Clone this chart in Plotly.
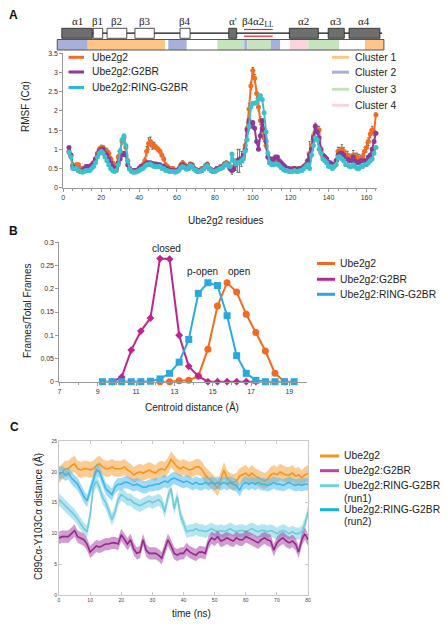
import plotly.graph_objects as go

# ---------------- DATA ----------------
# Panel A: RMSF per residue (residues 3..165)
residues = list(range(3, 166))
rmsf_ube2g2 = [
    0.95, 0.85, 0.6, 0.55, 0.6, 0.6, 0.5, 0.45, 0.5, 0.5, 0.55, 0.55, 0.55, 0.65, 0.75, 0.9, 1.0, 1.05,
    1.05, 0.95, 0.95, 0.9, 0.75, 0.65, 0.6, 0.55, 0.8, 0.95, 1.2, 1.3, 1.05, 0.7, 0.5, 0.45, 0.45, 0.45,
    0.45, 0.5, 0.55, 0.6, 0.7, 0.95, 1.15, 1.2, 1.1, 1.1, 1.05, 1.0, 0.95, 0.85, 0.75, 0.6, 0.55, 0.5,
    0.5, 0.5, 0.45, 0.45, 0.5, 0.6, 0.65, 0.6, 0.5, 0.55, 0.62, 0.6, 0.5, 0.48, 0.45, 0.45, 0.5, 0.5,
    0.58, 0.62, 0.5, 0.48, 0.45, 0.45, 0.5, 0.5, 0.55, 0.55, 0.62, 0.65, 0.62, 0.5, 0.45, 0.55, 0.6, 0.7,
    0.7, 0.75, 0.8, 1.1, 1.55, 2.05, 2.65, 3.05, 2.85, 2.45, 2.1, 1.75, 1.55, 1.3, 1.1, 0.8, 0.7, 0.65,
    0.65, 0.7, 0.7, 0.65, 0.6, 0.55, 0.5, 0.5, 0.48, 0.48, 0.5, 0.5, 0.48, 0.5, 0.5, 0.52, 0.55, 0.6,
    0.7, 0.9, 1.1, 1.35, 1.6, 1.5, 1.5, 0.95, 0.8, 0.8, 0.75, 0.65, 0.6, 0.6, 0.6, 0.7, 0.95, 0.95,
    1.0, 0.95, 0.85, 0.85, 0.8, 0.75, 0.85, 0.8, 0.8, 0.75, 0.75, 0.8, 0.95, 1.05, 1.2, 1.4, 1.5, 1.45,
    1.9]
rmsf_g2br = [
    1.05, 0.85, 0.55, 0.5, 0.5, 0.45, 0.42, 0.45, 0.5, 0.55, 0.55, 0.55, 0.6, 0.65, 0.75, 0.85, 0.95, 1.0,
    1.0, 0.9, 0.85, 0.75, 0.65, 0.55, 0.5, 0.5, 0.65, 0.75, 0.85, 0.9, 0.85, 0.6, 0.5, 0.45, 0.42, 0.45,
    0.45, 0.5, 0.55, 0.55, 0.6, 0.65, 0.65, 0.65, 0.63, 0.62, 0.62, 0.6, 0.6, 0.55, 0.55, 0.5, 0.5, 0.45,
    0.45, 0.45, 0.42, 0.45, 0.48, 0.55, 0.6, 0.55, 0.5, 0.5, 0.6, 0.58, 0.5, 0.45, 0.42, 0.45, 0.45, 0.5,
    0.55, 0.6, 0.5, 0.45, 0.42, 0.45, 0.5, 0.5, 0.52, 0.55, 0.6, 0.62, 0.6, 0.5, 0.45, 0.5, 0.6, 0.7,
    0.75, 0.75, 0.85, 1.0, 1.5, 1.75, 1.6, 1.7, 1.55, 1.2, 1.0, 1.35, 1.75, 1.5, 1.2, 0.8, 0.65, 0.75,
    0.75, 0.8, 0.8, 0.7, 0.65, 0.6, 0.55, 0.5, 0.5, 0.48, 0.48, 0.5, 0.48, 0.48, 0.5, 0.5, 0.55, 0.6,
    0.7, 0.85, 1.0, 1.3, 1.6, 1.45, 1.3, 1.0, 0.85, 0.8, 0.75, 0.65, 0.65, 0.6, 0.6, 0.7, 0.85, 0.9,
    0.9, 0.85, 0.75, 0.75, 0.7, 0.7, 0.8, 0.7, 0.65, 0.65, 0.7, 0.7, 0.7, 0.7, 0.8, 0.85, 1.0, 1.2,
    1.42]
rmsf_ring_g2br = [
    0.92, 0.8, 0.5, 0.5, 0.5, 0.45, 0.42, 0.4, 0.42, 0.45, 0.45, 0.45, 0.5, 0.55, 0.65, 0.8, 0.9, 0.95,
    0.9, 0.8, 0.7, 0.6, 0.5, 0.45, 0.42, 0.45, 0.6, 0.95, 1.25, 1.35, 1.1, 0.7, 0.48, 0.42, 0.4, 0.4,
    0.42, 0.45, 0.48, 0.5, 0.55, 0.6, 0.6, 0.62, 0.58, 0.55, 0.55, 0.55, 0.55, 0.5, 0.5, 0.45, 0.45, 0.42,
    0.42, 0.42, 0.4, 0.42, 0.45, 0.52, 0.55, 0.52, 0.48, 0.5, 0.58, 0.55, 0.48, 0.45, 0.42, 0.42, 0.45, 0.48,
    0.55, 0.58, 0.5, 0.45, 0.42, 0.42, 0.45, 0.48, 0.5, 0.52, 0.58, 0.62, 0.58, 0.55, 0.88, 0.7, 0.62, 0.65,
    0.65, 0.7, 0.75, 0.95, 1.25, 1.6, 2.1, 2.2, 2.2, 2.22, 2.3, 2.4, 2.3, 1.95, 1.45, 0.9, 0.65, 0.6,
    0.6, 0.62, 0.62, 0.58, 0.52, 0.48, 0.45, 0.45, 0.42, 0.42, 0.42, 0.45, 0.42, 0.42, 0.45, 0.45, 0.5, 0.55,
    0.6, 0.5, 0.85, 1.1, 1.3, 1.25, 1.0, 0.9, 0.75, 0.7, 0.65, 0.55, 0.55, 0.5, 0.55, 0.6, 0.8, 0.8,
    0.75, 0.7, 0.6, 0.6, 0.55, 0.55, 0.6, 0.55, 0.5, 0.5, 0.55, 0.55, 0.6, 0.6, 0.65, 0.7, 0.75, 0.9,
    1.05]
rmsf_err_ube2g2 = [
    0.04, 0.04, 0.04, 0.04, 0.04, 0.04, 0.04, 0.04, 0.04, 0.04, 0.04, 0.04, 0.04, 0.04, 0.05, 0.05, 0.06, 0.06,
    0.05, 0.08, 0.08, 0.06, 0.06, 0.1, 0.06, 0.05, 0.06, 0.06, 0.06, 0.06, 0.05, 0.05, 0.04, 0.04, 0.04, 0.04,
    0.04, 0.04, 0.05, 0.05, 0.08, 0.12, 0.15, 0.12, 0.1, 0.08, 0.06, 0.06, 0.05, 0.05, 0.05, 0.04, 0.04, 0.04,
    0.04, 0.04, 0.04, 0.04, 0.04, 0.05, 0.05, 0.04, 0.04, 0.04, 0.04, 0.04, 0.04, 0.04, 0.04, 0.04, 0.04, 0.04,
    0.04, 0.04, 0.04, 0.04, 0.04, 0.04, 0.04, 0.04, 0.04, 0.04, 0.05, 0.05, 0.05, 0.06, 0.1, 0.12, 0.15, 0.3,
    0.3, 0.2, 0.15, 0.15, 0.15, 0.15, 0.1, 0.08, 0.1, 0.12, 0.1, 0.1, 0.1, 0.1, 0.08, 0.06, 0.05, 0.05,
    0.05, 0.05, 0.05, 0.05, 0.04, 0.04, 0.04, 0.04, 0.04, 0.04, 0.04, 0.04, 0.04, 0.04, 0.04, 0.04, 0.05, 0.1,
    0.2, 0.3, 0.15, 0.1, 0.08, 0.1, 0.1, 0.08, 0.06, 0.06, 0.05, 0.05, 0.05, 0.05, 0.06, 0.06, 0.1, 0.1,
    0.12, 0.1, 0.1, 0.1, 0.08, 0.1, 0.12, 0.1, 0.1, 0.12, 0.1, 0.1, 0.1, 0.12, 0.1, 0.1, 0.1, 0.1,
    0.05]

# Secondary structure elements (residue ranges)
helix_labels = ["α1", "α'", "α2", "α3", "α4"]
helix_start = [-0.8, 87.3, 119.3, 139.8, 150.8]
helix_end = [15.3, 91.5, 134.6, 148.3, 167.1]
strand_labels = ["β1", "β2", "β3", "β4"]
strand_start = [15.8, 23.1, 37.8, 61.6]
strand_end = [20.8, 33.5, 48.0, 66.9]
loop_label = "β4α2<sub>LL</sub>"
loop_start, loop_end = 95.4, 110.5

# Cluster assignment bar (residue ranges)
cluster_names = ["Cluster 1", "Cluster 2", "Cluster 3", "Cluster 4"]
cluster_seg_id = [2, 1, 2, 3, 2, 3, 2, 4, 3, 1]
cluster_seg_start = [-3.2, 12.9, 55.4, 81.3, 95.5, 97.1, 109.4, 119.6, 129.3, 159.2]
cluster_seg_end = [12.9, 53.7, 65.1, 95.5, 97.1, 109.4, 114.4, 129.3, 145.5, 169.2]

# Panel B: centroid distance histograms
centroid_bins = [9.25 + 0.5 * i for i in range(21)]
frac_ube2g2 = [None] * 6 + [0, 0, 0.002, 0.003, 0.012, 0.07, 0.163, 0.213, 0.193, 0.145, 0.106, 0.066, 0.018, 0.0, None]
frac_g2br = [None, 0, 0.01, 0.068, 0.109, 0.137, 0.265, 0.264, 0.1, 0.033, 0.012, 0, 0, 0, 0, 0, 0, None, None, None, None]
frac_ring_g2br = [0, 0, 0, 0, 0, 0.001, 0.006, 0.018, 0.042, 0.091, 0.19, 0.213, 0.207, 0.142, 0.056, 0.018, 0.003, 0, 0, 0, 0]

# Panel C: C89Ca-Y103Ca distance over time (ns), with fluctuation half-width
time_ns = list(range(0, 81))
dist_ube2g2 = [19.5, 20, 20.5, 20.5, 21, 21.3, 20.5, 20.3, 20.5, 20.5, 20.3, 20.5, 21, 21.3, 20.8, 20.5, 20.5,
               20.8, 20.5, 20.5, 20.5, 20.8, 20.3, 20, 19.5, 19.8, 20, 19.8, 20, 20.3, 20, 19.8, 20.3, 20.5,
               20.3, 21, 22, 21.3, 20.8, 20.5, 20.8, 20.5, 20.3, 20.5, 20.8, 20.8, 20.3, 19.5, 19, 18.5, 18,
               17.3, 19, 20.3, 19, 18.5, 18.3, 18.5, 19.3, 19.5, 19.8, 19.3, 19.8, 19.3, 19, 18.8, 18.5, 18.8,
               19.5, 19.8, 19.5, 20, 19.8, 19.5, 19.5, 19.8, 19.3, 19.5, 19, 19.5, 19.8]
dist_g2br = [9.3, 9.5, 9.5, 9.5, 10, 10.5, 9.5, 9.3, 9, 8.3, 7, 7.5, 8, 7.8, 8, 8.3, 8.3, 8.5, 8.5, 8.3, 9.8,
             9, 8.3, 9, 7.5, 6.8, 7, 9, 7.3, 6.8, 6.8, 6.8, 6.5, 6, 7.5, 9, 8, 6.8, 6.5, 6.8, 6.8, 7.5, 7,
             6.8, 6.5, 7, 7, 6.8, 8.5, 9.3, 9, 9.5, 8.8, 9, 9.3, 9, 8.8, 9.3, 9, 9, 9.5, 9.3, 9, 8.8, 8.5, 9,
             9.3, 9, 8.8, 7.3, 8.5, 9, 9.3, 8.8, 8.5, 8.8, 8.3, 7, 9, 10, 9]
dist_ring_run1 = [15.5, 15, 14.5, 14, 13.5, 13, 12.3, 11.5, 10.8, 10.3, 13, 17.5, 18.5, 17.5, 15.8, 15, 13.8,
                  12.3, 13.5, 15.5, 16.3, 16, 15.5, 15.5, 15, 14.8, 14.5, 14.8, 15, 15.3, 15, 15.3, 15.5, 15,
                  13.5, 16, 17.3, 14, 16, 13, 11.5, 10.3, 10.5, 10.5, 10.8, 10.5, 10.5, 10.3, 10.5, 10.8, 10.5,
                  10.3, 10.5, 10.3, 10.5, 10.8, 10.5, 10.3, 10.5, 10.5, 10.3, 10.5, 10.8, 10.5, 10.3, 10.5, 10.5,
                  10.3, 10.5, 10.3, 10, 10.3, 10.5, 10.3, 10, 10.3, 10, 10, 10.3, 11.5, 13.5]
dist_ring_run2 = [19.8, 20, 19.5, 19.8, 19, 18.5, 18, 17, 16, 15.3, 17, 19, 20.3, 20, 18.8, 17.3, 16.8, 16.3,
                  17.5, 18, 18, 18.3, 18.3, 18, 17.8, 18, 17.8, 17.5, 17.5, 17.8, 17.8, 18, 18, 18.3, 18.5,
                  18.3, 18.8, 19, 18.8, 18.5, 18.3, 18.5, 18.3, 18, 18.3, 18, 18, 18.3, 18, 18.3, 18, 18.3, 18,
                  18.3, 18, 18.3, 18, 17.8, 17, 18, 18.3, 18, 18.3, 18, 18.3, 18, 18, 17.8, 18, 18.3, 18, 18,
                  17.8, 18, 18.3, 18, 17.8, 18, 17.8, 18, 18]
spread_ube2g2 = 1.3
spread_g2br = 1.0
spread_run1 = 1.0
spread_run2 = 1.0

# ---------------- LAYOUT HELPERS ----------------
W, H = 447, 628
FONT = "Liberation Sans"
SERIF = "Liberation Serif"
TXT = "#222"


def px(x):
    return x / W


def py(y):
    return 1 - y / H


A_DOM = [px(63.3), px(376.7)]
A_RANGE = [0, 165.4]


def res_x(r):
    return A_DOM[0] + (r - A_RANGE[0]) / (A_RANGE[1] - A_RANGE[0]) * (A_DOM[1] - A_DOM[0])


fig = go.Figure()

# ---------------- PANEL A ----------------
c_or, c_pu, c_cy = "#f26c22", "#8c3a96", "#3cc0cc"
fig.add_trace(go.Scatter(x=residues, y=rmsf_ube2g2, mode="lines+markers", name="Ube2g2",
                         line=dict(color=c_or, width=2), marker=dict(size=5, color=c_or),
                         error_y=dict(type="data", array=rmsf_err_ube2g2, color="#222", thickness=0.6, width=1.2),
                         xaxis="x", yaxis="y", cliponaxis=False, showlegend=False))
fig.add_trace(go.Scatter(x=residues, y=rmsf_g2br, mode="lines+markers", name="Ube2g2:G2BR",
                         line=dict(color=c_pu, width=2), marker=dict(size=5, color=c_pu),
                         xaxis="x", yaxis="y", cliponaxis=False, showlegend=False))
fig.add_trace(go.Scatter(x=residues, y=rmsf_ring_g2br, mode="lines+markers", name="Ube2g2:RING-G2BR",
                         line=dict(color=c_cy, width=2), marker=dict(size=5, color=c_cy),
                         xaxis="x", yaxis="y", cliponaxis=False, showlegend=False))

# ---------------- PANEL B ----------------
b_or, b_mg, b_cy = "#f26a21", "#be2590", "#2aa9e0"
fig.add_trace(go.Scatter(x=centroid_bins, y=frac_ube2g2, mode="lines+markers", name="Ube2g2",
                         line=dict(color=b_or, width=2), marker=dict(size=7, color=b_or, symbol="circle"),
                         xaxis="x2", yaxis="y2", cliponaxis=False, showlegend=False))
fig.add_trace(go.Scatter(x=centroid_bins, y=frac_g2br, mode="lines+markers", name="Ube2g2:G2BR",
                         line=dict(color=b_mg, width=2), marker=dict(size=6, color=b_mg, symbol="diamond"),
                         xaxis="x2", yaxis="y2", cliponaxis=False, showlegend=False))
fig.add_trace(go.Scatter(x=centroid_bins, y=frac_ring_g2br, mode="lines+markers", name="Ube2g2:RING-G2BR",
                         line=dict(color=b_cy, width=2), marker=dict(size=7, color=b_cy, symbol="square"),
                         xaxis="x2", yaxis="y2", cliponaxis=False, showlegend=False))

# ---------------- PANEL C ----------------
c_series = [
    (dist_ube2g2, spread_ube2g2, "#f7941d", "rgba(248,160,60,0.55)", "Ube2g2"),
    (dist_ring_run2, spread_run2, "#3db5ea", "rgba(80,190,240,0.55)", "Ube2g2:RING-G2BR (run2)"),
    (dist_ring_run1, spread_run1, "#6fcbdc", "rgba(120,210,225,0.55)", "Ube2g2:RING-G2BR (run1)"),
    (dist_g2br, spread_g2br, "#96278f", "rgba(160,60,155,0.5)", "Ube2g2:G2BR"),
]
for vals, sp, col, fcol, nm in c_series:
    lo = [v - sp for v in vals]
    hi = [v + sp for v in vals]
    fig.add_trace(go.Scatter(x=time_ns, y=lo, mode="lines", line=dict(width=0, color=fcol),
                             xaxis="x3", yaxis="y3", showlegend=False, hoverinfo="skip"))
    fig.add_trace(go.Scatter(x=time_ns, y=hi, mode="lines", line=dict(width=0, color=fcol), fill="tonexty",
                             fillcolor=fcol, xaxis="x3", yaxis="y3", showlegend=False, hoverinfo="skip"))
    fig.add_trace(go.Scatter(x=time_ns, y=vals, mode="lines", name=nm, line=dict(width=1.6, color=col),
                             xaxis="x3", yaxis="y3", showlegend=False))

# ---------------- AXES ----------------
tick_font = dict(family=FONT, size=7, color="#333")
common = dict(showgrid=False, zeroline=False, showline=True, linecolor="#9a9a9a", linewidth=1,
              ticks="outside", ticklen=3, tickcolor="#9a9a9a", tickfont=tick_font)
fig.update_layout(
    xaxis=dict(domain=A_DOM, range=A_RANGE, anchor="y", tick0=0, dtick=20,
               minor=dict(dtick=5, ticklen=2, tickcolor="#9a9a9a", ticks="outside"), **common),
    yaxis=dict(domain=[py(187.7), py(53.3)], range=[0, 3.5], anchor="x", dtick=0.5, **common),
    xaxis2=dict(domain=[px(59.4), px(306.6)], range=[7, 19.9], anchor="y2", tick0=7, dtick=2,
                minor=dict(dtick=1, ticklen=2, tickcolor="#9a9a9a", ticks="outside"), **common),
    yaxis2=dict(domain=[py(381.7), py(242.3)], range=[0, 0.3], anchor="x2", dtick=0.05, **common),
    xaxis3=dict(domain=[px(59), px(308)], range=[0, 80], anchor="y3", dtick=10, mirror="ticks",
                showgrid=False, zeroline=False, showline=True, linecolor="#c8c8c8", ticks="inside",
                ticklen=3, tickcolor="#c8c8c8", tickfont=dict(family=FONT, size=5, color="#444")),
    yaxis3=dict(domain=[py(595.3), py(441)], range=[0, 25], anchor="x3", dtick=5, mirror="ticks",
                showgrid=False, zeroline=False, showline=True, linecolor="#c8c8c8", ticks="inside",
                ticklen=3, tickcolor="#c8c8c8", tickfont=dict(family=FONT, size=5, color="#444")),
)

shapes = []
ann = []


def text(x, y, s, size=10, anchor="left", angle=0, family=FONT, color=TXT, bold=False, xref="paper", yref="paper"):
    ann.append(dict(x=x, y=y, xref=xref, yref=yref, text=("<b>%s</b>" % s) if bold else s, showarrow=False,
                    xanchor=anchor, yanchor="middle", textangle=angle,
                    font=dict(family=family, size=size, color=color)))


def hline(x0, x1, y, color, width=3):
    shapes.append(dict(type="line", xref="paper", yref="paper", x0=px(x0), x1=px(x1), y0=py(y), y1=py(y),
                       line=dict(color=color, width=width)))


# Panel letters
text(px(7), py(15), "A", size=12, bold=True, color="#111")
text(px(7), py(231), "B", size=12, bold=True, color="#111")
text(px(8), py(427), "C", size=12, bold=True, color="#111")

# ---- secondary structure diagram ----
shapes.append(dict(type="line", xref="paper", yref="paper", x0=res_x(-0.7), x1=res_x(168.2), y0=py(33.2), y1=py(33.2),
                   line=dict(color="#111", width=1.2)))
for lab, s, e in zip(helix_labels, helix_start, helix_end):
    shapes.append(dict(type="rect", xref="paper", yref="paper", x0=res_x(s), x1=res_x(e), y0=py(38.3), y1=py(28.3),
                       fillcolor="#6f6f6f", line=dict(color="#222", width=0.8)))
    text((res_x(s) + res_x(e)) / 2, py(21.5), lab, size=11, anchor="center", family=SERIF)
for lab, s, e in zip(strand_labels, strand_start, strand_end):
    shapes.append(dict(type="rect", xref="paper", yref="paper", x0=res_x(s), x1=res_x(e), y0=py(38.3), y1=py(28.3),
                       fillcolor="white", line=dict(color="#222", width=0.8)))
    text((res_x(s) + res_x(e)) / 2, py(21.5), lab, size=11, anchor="center", family=SERIF)
for yy in (29.5, 36.2):
    shapes.append(dict(type="line", xref="paper", yref="paper", x0=res_x(loop_start), x1=res_x(loop_end),
                       y0=py(yy), y1=py(yy), line=dict(color="#e8202a", width=1.2)))
text((res_x(loop_start) + res_x(loop_end)) / 2, py(22), loop_label, size=11, anchor="center", family=SERIF)

# ---- cluster bar ----
cluster_colors = ["#fdc688", "#a8afd9", "#c6e3be", "#f9d5de"]
for cid, s, e in zip(cluster_seg_id, cluster_seg_start, cluster_seg_end):
    shapes.append(dict(type="rect", xref="paper", yref="paper", x0=res_x(s), x1=res_x(e), y0=py(50), y1=py(39.5),
                       fillcolor=cluster_colors[cid - 1], line=dict(width=0)))
shapes.append(dict(type="rect", xref="paper", yref="paper", x0=res_x(cluster_seg_start[0]), x1=res_x(cluster_seg_end[-1]),
                   y0=py(50), y1=py(39.5), line=dict(color="#555", width=1)))

# ---- legends A ----
for i, (nm, col) in enumerate([("Ube2g2", c_or), ("Ube2g2:G2BR", c_pu), ("Ube2g2:RING-G2BR", "#2bb7e4")]):
    yy = [57.3, 72, 87.5][i]
    hline(68.5, 84, yy, col)
    text(px(90), py(yy), nm, size=10.3)
for i, nm in enumerate(cluster_names):
    yy = [57.3, 72.2, 89.3, 105.3][i]
    hline(332, 349, yy, cluster_colors[i])
    text(px(353), py(yy), nm, size=10.3)

# titles A
text(px(25), py(107), "RMSF (Cα)", size=10, anchor="center", angle=-90)
text(px(226), py(220.5), "Ube2g2 residues", size=10, anchor="center")

# ---- panel B text ----
text(px(27), py(311), "Frames/Total Frames", size=10, anchor="center", angle=-90)
text(px(191.5), py(407), "Centroid distance (Å)", size=10, anchor="center")
text(12.6, 0.287, "closed", size=10, anchor="center", xref="x2", yref="y2")
text(14.48, 0.2365, "p-open", size=10, anchor="center", xref="x2", yref="y2")
text(16.35, 0.2365, "open", size=10, anchor="center", xref="x2", yref="y2")
for i, (nm, col) in enumerate([("Ube2g2", b_or), ("Ube2g2:G2BR", b_mg), ("Ube2g2:RING-G2BR", b_cy)]):
    yy = [263.5, 279.3, 294.3][i]
    hline(317, 335, yy, col)
    text(px(338), py(yy), nm, size=10.3)

# ---- panel C text ----
text(px(38), py(517), "C89Cα-Y103Cα distance (Å)", size=10, anchor="center", angle=-90)
text(px(191), py(613), "time (ns)", size=10, anchor="center")
leg_c = [("Ube2g2", "#f7941d", 456), ("Ube2g2:G2BR", "#c2439b", 470.7),
         ("Ube2g2:RING-G2BR", "#74cde0", 485.7), ("Ube2g2:RING-G2BR", "#12b4e2", 509.7)]
for nm, col, yy in leg_c:
    hline(320, 339, yy, col)
    text(px(342), py(yy), nm, size=10.3)
text(px(342), py(498.5), "(run1)", size=10.3)
text(px(342), py(521.8), "(run2)", size=10.3)

fig.update_layout(width=W, height=H, margin=dict(l=0, r=0, t=0, b=0), template="none",
                  paper_bgcolor="white", plot_bgcolor="white", shapes=shapes, annotations=ann,
                  font=dict(family=FONT, size=10, color=TXT), showlegend=False, hovermode=False)

fig.write_html("out.html", config={"displayModeBar": False, "staticPlot": True},
               post_script="document.body.style.margin='0px';document.body.style.padding='0px';")
